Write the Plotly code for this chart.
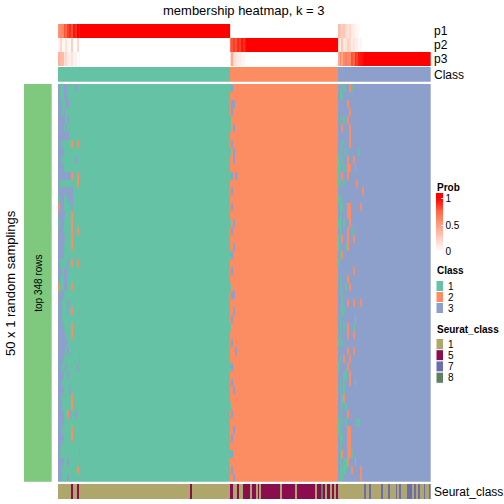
import plotly.graph_objects as go

# ---------------- data ----------------
N_COLS = 200
class_counts = [92, 58, 50]          # columns assigned to class 1, 2, 3
class_labels = [1, 2, 3]

# membership probabilities (columns ordered as in the picture)
p1 = ([0.55, 0.6, 0.6, 0.8, 0.75, 0.85, 0.9, 0.8, 0.95, 0.9, 1, 0.95, 1] + [1] * 79
      + [0.15] + [0] * 57
      + [0.35, 0.3, 0.25, 0.3, 0.2, 0.15, 0.2, 0.1, 0.1, 0.05, 0.05, 0.03] + [0] * 38)
p2 = ([0.05, 0.2, 0.05, 0.05, 0.15, 0.05, 0.02, 0.25, 0, 0.02, 0.2, 0, 0] + [0] * 79
      + [0.7, 0.8, 0.85, 0.8, 0.9, 0.85, 0.95, 0.9, 0.95] + [1] * 49
      + [0.2, 0.1, 0.3, 0.1, 0.15, 0.25, 0.2, 0.1, 0.15, 0.05, 0.1, 0.03, 0.05] + [0] * 37)
p3 = ([0.4, 0.35, 0.35, 0.15, 0.2, 0.1, 0.08, 0.15, 0.05, 0.08, 0, 0.05, 0] + [0] * 79
      + [0.15, 0.45, 0.2, 0.15, 0.1, 0.1, 0.05, 0.05, 0.03] + [0] * 49
      + [0.45, 0.6, 0.45, 0.6, 0.65, 0.6, 0.6, 0.8, 0.75, 0.9, 0.85, 0.94, 0.95, 0.97] + [1] * 36)
prob_rows = ["p1", "p2", "p3"]

# 50 random samplings: deviations from the consensus class in three column zones
zoneA_start, zoneB_start, zoneC_start = 0, 92, 150
zoneA = ["3113311113111", "3113311111111", "3311331111111", "3313111111111", "3333131111111",
         "3331311111111", "3333331111111", "3311111211211", "3331111111111", "3311111113111",
         "3331111111111", "3333333211211", "3111111111211", "3333333311111", "1331133311111",
         "2331111311111", "3333111211111", "1331111211111", "3331111211211", "3333111211111",
         "3331111211111", "3331111111111", "3111131211211", "3313311111111", "3113311111111",
         "2113311211111", "3331111111111", "3311131111111", "3311131211111", "3311111111111",
         "3331111211111", "3333111211111", "3333311111111", "3333131111111", "3331111111131",
         "3311311111311", "3331131111111", "3311111111111", "3331113111111", "3311111211111",
         "3311111211111", "3331123113111", "3331111111111", "3311111211111", "3331111211111",
         "3311111111111", "3111111111131", "3331131111111", "3311111111211", "3311131111111"]
zoneB = ["13222", "22222", "23322", "23222", "12222", "12322", "22222", "23222", "12322", "22322",
         "22222", "13232", "22222", "23222", "22222", "23222", "22222", "12322", "23222", "22222",
         "22322", "13222", "22222", "23222", "22222", "12222", "23322", "22222", "22322", "23222",
         "12222", "22222", "23222", "22232", "22222", "13222", "22222", "23222", "22322", "22222",
         "12222", "23222", "22222", "22322", "23222", "22222", "13222", "22222", "23222", "22322"]
zoneC = ["31313321333333", "31133333333333", "33333233333333", "33333323333333", "31313233333333",
         "33233323333333", "33333323333333", "33133323333333", "31331333333133", "13133233233333",
         "11313223323333", "13233233333333", "11313333332333", "33333333333332", "11333333333333",
         "31133223333323", "31333223333333", "11313323333333", "31333231313333", "13233233233333",
         "13331233333333", "31233333333333", "13333333333333", "33333333233333", "31333233333333",
         "31331323333333", "33133333333333", "33133233233323", "33113333333333", "31333333323333",
         "31313233133333", "31333233233333", "13133333333333", "33333233233333", "31323323333333",
         "13333233333333", "33311323333333", "31313323323333", "31313333333333", "33123333333333",
         "33131333333333", "31333233333333", "13131333331133", "11333223333333", "31133223333333",
         "31333223333333", "31233221333333", "31311233323333", "31111332333323", "31133333333323"]

# Seurat class of each column
seurat = ("1111111511" "5111111111" "1111111111" "1111111111" "1111111111"
          "1111111111" "1111111111" "1511111111" "1111111111" "1155115115"
          "5551551515" "5555555551" "5555555155" "5555555515" "5851551515"
          "1111111111" "1111711711" "1117111711" "1717111777" "1717117117")
seurat_levels = ["1", "5", "7", "8"]
n_top_rows = 348

# ---------------- colours ----------------
class_colors = {1: "#66C2A5", 2: "#FC8D62", 3: "#8DA0CB"}
seurat_colors = {"1": "#AFA66B", "5": "#8B0D4F", "7": "#6A6EAF", "8": "#5F7F64"}
left_bar_color = "#7FC97F"
# white -> red (interpolated in LAB space); value range padded so the legend bar overhangs its ticks
PZMIN, PZMAX = -0.1, 1.1


def pz(v):
    return (v - PZMIN) / (PZMAX - PZMIN)


prob_scale = [[0, "#FFFFFF"], [pz(0), "#FFFFFF"], [pz(0.25), "rgb(255,207,191)"],
              [pz(0.5), "rgb(255,158,129)"], [pz(0.75), "rgb(255,104,70)"],
              [pz(1), "#FF0000"], [1, "#FF0000"]]

FONT = "Liberation Sans, Arial, sans-serif"
W = H = 504


def fx(px):
    return px / W


def fy(py):
    return 1 - py / H


def discrete_scale(colors):
    n = len(colors)
    cs = []
    for i, c in enumerate(colors):
        cs.append([i / n, c])
        cs.append([(i + 1) / n, c])
    return cs


# ---------------- build matrices ----------------
column_class = []
for lab, cnt in zip(class_labels, class_counts):
    column_class += [lab] * cnt

main = []
for r in range(len(zoneA)):
    row = list(column_class)
    for start, zs in ((zoneA_start, zoneA[r]), (zoneB_start, zoneB[r]), (zoneC_start, zoneC[r])):
        for i, ch in enumerate(zs):
            row[start + i] = int(ch)
    main.append(row)

seurat_idx = [seurat_levels.index(ch) for ch in seurat]
cols = list(range(N_COLS))

fig = go.Figure()

# probability rows
fig.add_trace(go.Heatmap(z=[p1, p2, p3], x=cols, y=prob_rows, colorscale=prob_scale,
                         zmin=PZMIN, zmax=PZMAX, xaxis="x", yaxis="y", hoverinfo="skip",
                         colorbar=dict(x=fx(436), xanchor="left", y=fy(193), yanchor="top",
                                       len=64, lenmode="pixels", thickness=7,
                                       thicknessmode="pixels", outlinewidth=0,
                                       tickvals=[0, 0.5, 1], ticktext=["0", "0.5", "1"],
                                       ticks="inside", ticklen=2, tickcolor="white", tickwidth=1,
                                       xpad=0, ypad=0,
                                       tickfont=dict(family=FONT, size=10, color="#000"))))
# class row
fig.add_trace(go.Heatmap(z=[column_class], x=cols, colorscale=discrete_scale([class_colors[k] for k in class_labels]),
                         zmin=0.5, zmax=3.5, showscale=False, xaxis="x2", yaxis="y2", hoverinfo="skip"))
# main membership heatmap
fig.add_trace(go.Heatmap(z=main, x=cols, colorscale=discrete_scale([class_colors[k] for k in class_labels]),
                         zmin=0.5, zmax=3.5, showscale=False, xaxis="x3", yaxis="y3", hoverinfo="skip"))
# seurat row
fig.add_trace(go.Heatmap(z=[seurat_idx], x=cols, colorscale=discrete_scale([seurat_colors[k] for k in seurat_levels]),
                         zmin=-0.5, zmax=3.5, showscale=False, xaxis="x4", yaxis="y4", hoverinfo="skip"))
# left bar
fig.add_trace(go.Heatmap(z=[[1]], colorscale=[[0, left_bar_color], [1, left_bar_color]],
                         showscale=False, xaxis="x5", yaxis="y5", hoverinfo="skip"))

hx = [fx(58), fx(430.7)]
ax_common = dict(visible=False, showgrid=False, zeroline=False, fixedrange=True)
layout = dict(width=W, height=H, margin=dict(l=0, r=0, t=0, b=0),
              paper_bgcolor="white", plot_bgcolor="white", showlegend=False)
for i, (ytop, ybot) in enumerate([(24, 66), (67, 81.7), (84, 481.7), (484, 499)], start=1):
    sfx = "" if i == 1 else str(i)
    layout["xaxis" + sfx] = dict(domain=hx, range=[-0.5, N_COLS - 0.5], anchor="y" + sfx, **ax_common)
    layout["yaxis" + sfx] = dict(domain=[fy(ybot), fy(ytop)], anchor="x" + sfx, autorange="reversed", **ax_common)
layout["xaxis5"] = dict(domain=[fx(24), fx(51.7)], anchor="y5", **ax_common)
layout["yaxis5"] = dict(domain=[fy(481.7), fy(84)], anchor="x5", **ax_common)
fig.update_layout(**layout)

ann = []


def text(x, y, s, size=12, xanchor="left", bold=False, angle=0):
    ann.append(dict(x=fx(x), y=fy(y), xref="paper", yref="paper", text=("<b>%s</b>" % s) if bold else s,
                    showarrow=False, xanchor=xanchor, yanchor="middle", textangle=angle,
                    font=dict(family=FONT, size=size, color="#000")))


text(244.4, 10, "membership heatmap, k = 3", size=13, xanchor="center")
for lab, y in zip(prob_rows, [31, 45, 59]):
    text(432, y, lab, size=12)
text(432, 74.5, "Class", size=12)
text(432, 491.5, "Seurat_class", size=12)
text(10, 283, "50 x 1 random samplings", size=13, xanchor="center", angle=-90)
text(37.8, 283, "top %d rows" % n_top_rows, size=10, xanchor="center", angle=-90)

# legends
text(435, 187, "Prob", size=10, bold=True)
text(435, 270.5, "Class", size=10, bold=True)
text(435, 329.5, "Seurat_class", size=10, bold=True)
shapes = []
box_x0, box_x1 = 436, 443.5
for i, k in enumerate(class_labels):
    y0 = 280.5 + i * 11
    shapes.append(dict(type="rect", xref="paper", yref="paper", x0=fx(box_x0), x1=fx(box_x1),
                       y0=fy(y0), y1=fy(y0 + 11), fillcolor=class_colors[k], line=dict(color="white", width=1)))
    text(446, y0 + 5.5, str(k), size=10)
for i, k in enumerate(seurat_levels):
    y0 = 338.5 + i * 11.2
    shapes.append(dict(type="rect", xref="paper", yref="paper", x0=fx(box_x0), x1=fx(box_x1),
                       y0=fy(y0), y1=fy(y0 + 11.2), fillcolor=seurat_colors[k], line=dict(color="white", width=1)))
    text(446, y0 + 5.6, k, size=10)

fig.update_layout(annotations=ann, shapes=shapes)
fig.write_html("out.html", config={"displayModeBar": False},
               post_script="document.body.style.margin='0px';")
